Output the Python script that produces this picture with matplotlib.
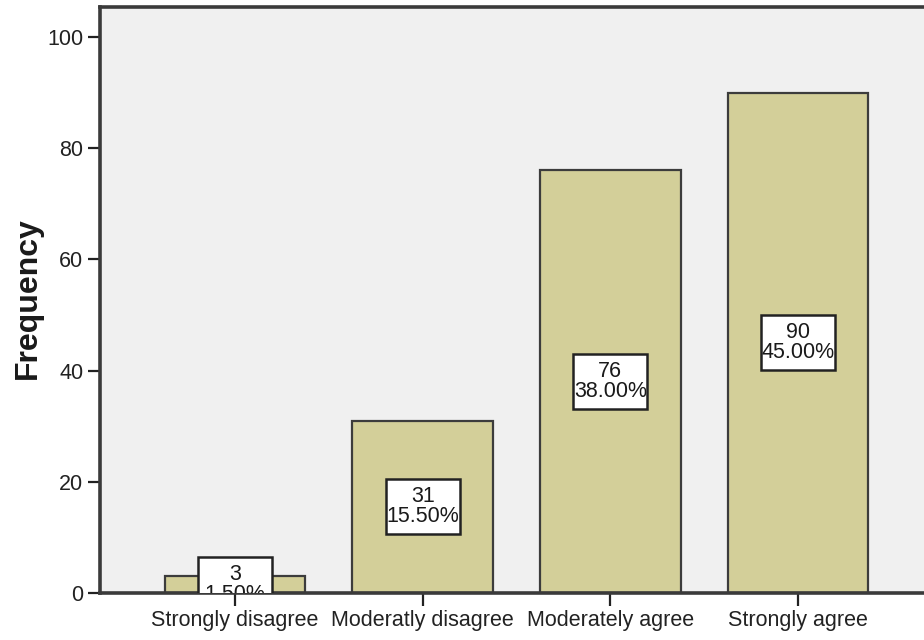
import matplotlib
matplotlib.use("Agg")
import matplotlib.pyplot as plt
from matplotlib.patches import Rectangle

plt.rcParams['font.family'] = ['Liberation Sans', 'DejaVu Sans']

categories = ["Strongly disagree", "Moderatly disagree", "Moderately agree", "Strongly agree"]
counts = [3, 31, 76, 90]
percents = [1.50, 15.50, 38.00, 45.00]
yticks = [0, 20, 40, 60, 80, 100]

BAR_COLOR = '#d3cf99'
EDGE = '#3c3c3c'
LABEL_W = 0.395   # label box width, x units
LABEL_H = 9.9     # label box height, y units

fig = plt.figure(figsize=(9.24, 6.40), dpi=100)
fig.patch.set_facecolor('white')
ax = fig.add_axes([100 / 924, 47 / 640, 830 / 924, 586 / 640])
ax.set_facecolor('#f0f0f0')

x = list(range(len(categories)))
ax.bar(x, counts, width=0.75, color=BAR_COLOR, edgecolor=EDGE, linewidth=1.6, zorder=2)

# count + percent label in a white box at mid-height of each bar
for xi, c, p in zip(x, counts, percents):
    ax.add_patch(Rectangle((xi - LABEL_W / 2, c / 2 - LABEL_H / 2), LABEL_W, LABEL_H,
                           facecolor='white', edgecolor='#222222', linewidth=1.8, zorder=3))
    ax.text(xi, c / 2, f"{c}\n{p:.2f}%", ha='center', va='center', fontsize=15.5,
            color='#1a1a1a', linespacing=0.92, clip_on=True, zorder=4)

ax.set_xlim(-0.719, 3.703)
ax.set_ylim(0, 105.4)
ax.set_xticks(x)
ax.set_xticklabels(categories)
ax.set_yticks(yticks)

ax.tick_params(axis='both', labelsize=15.5, labelcolor='#222222', color='#222222',
               width=1.6, length=9, pad=3)

for side in ['left', 'bottom', 'top']:
    ax.spines[side].set_color('#3a3a3a')
    ax.spines[side].set_linewidth(2.6)
ax.spines['right'].set_visible(False)

fig.text(28 / 924, 0.534, "Frequency", rotation=90, ha='center', va='center',
         fontsize=23, fontweight='bold', color='#1a1a1a')

fig.savefig("out.png", dpi=100)
